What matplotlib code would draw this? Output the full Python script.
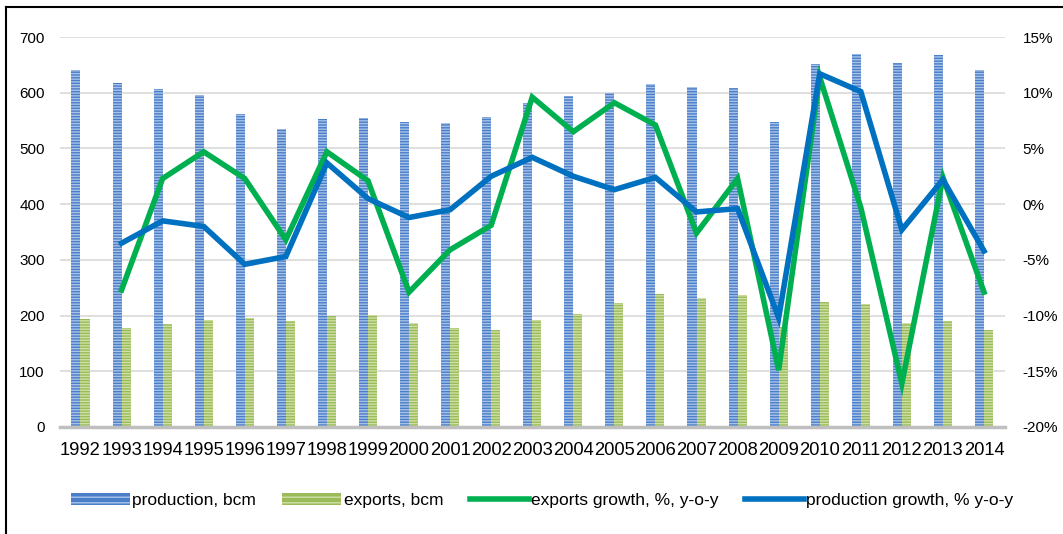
import numpy as np
import matplotlib
matplotlib.use("Agg")
import matplotlib.pyplot as plt
from matplotlib.lines import Line2D

plt.rcParams["font.family"] = ["Liberation Sans", "DejaVu Sans"]
plt.rcParams["hatch.linewidth"] = 1.0

# ── data ──────────────────────────────────────────────────────────────────────
years = [str(y) for y in range(1992, 2015)]
production = [640, 618, 607, 596, 562, 535, 553, 555, 547, 545, 557, 581,
              595, 600, 616, 611, 609, 547, 651, 670, 654, 668, 640]
exports = [194, 178, 184, 192, 196, 190, 199, 201, 186, 178, 174, 192,
           202, 222, 238, 231, 237, 180, 224, 220, 187, 190, 174]
# growth series start in 1993
exports_growth = [-7.7, 2.3, 4.7, 2.3, -3.2, 4.7, 2.1, -7.9, -4.1, -1.9, 9.6,
                  6.5, 9.1, 7.1, -2.6, 2.3, -14.9, 11.4, -0.3, -16.1, 2.4, -7.9]
production_growth = [-3.5, -1.5, -2.0, -5.4, -4.7, 3.7, 0.5, -1.2, -0.5, 2.5,
                     4.2, 2.5, 1.3, 2.4, -0.7, -0.4, -10.2, 11.7, 10.1, -2.3,
                     2.2, -4.2]

BLUE_BAR = "#4A7EC8"
BLUE_HATCH = "#A9C2E8"
GREEN_BAR = "#9BBB59"
GREEN_HATCH = "#CFE0A8"
GREEN_LINE = "#00B050"
BLUE_LINE = "#0070C0"

fig = plt.figure(figsize=(10.63, 5.34), dpi=100)
ax = fig.add_axes([0.0564, 0.2004, 0.8886, 0.7303])
ax2 = ax.twinx()

x = np.arange(len(years))
w = 0.22
ax.bar(x - w / 2, production, width=w, color=BLUE_BAR, edgecolor=BLUE_HATCH,
       linewidth=0, hatch="------", zorder=2)
ax.bar(x + w / 2, exports, width=w, color=GREEN_BAR, edgecolor=GREEN_HATCH,
       linewidth=0, hatch="------", zorder=2)

ax.set_xlim(-0.5, len(years) - 0.5)
ax.set_ylim(0, 700)
ax.set_yticks(range(0, 701, 100))
ax.set_xticks(x)
ax.set_xticklabels(years, fontsize=13.2)
ax.tick_params(axis="y", labelsize=11, length=0, pad=11)
ax.tick_params(axis="x", length=0, pad=11)
ax.grid(axis="y", color="#D9D9D9", linewidth=1.2, zorder=0)
ax.set_axisbelow(True)
for s in ["top", "right", "left"]:
    ax.spines[s].set_visible(False)
ax.spines["bottom"].set_color("#BFBFBF")
ax.spines["bottom"].set_linewidth(2.5)

ax2.plot(x[1:], exports_growth, color=GREEN_LINE, linewidth=4,
         solid_joinstyle="miter", zorder=3)
ax2.plot(x[1:], production_growth, color=BLUE_LINE, linewidth=4,
         solid_joinstyle="miter", zorder=4)
ax2.set_ylim(-20, 15)
ax2.set_yticks(range(-20, 16, 5))
ax2.set_yticklabels([f"{v}%" for v in range(-20, 16, 5)])
ax2.tick_params(axis="y", labelsize=11, length=0, pad=13)
for s in ax2.spines.values():
    s.set_visible(False)

# legend
handles = [
    plt.Rectangle((0, 0), 1, 1, facecolor=BLUE_BAR, edgecolor=BLUE_HATCH,
                  linewidth=0, hatch="---"),
    plt.Rectangle((0, 0), 1, 1, facecolor=GREEN_BAR, edgecolor=GREEN_HATCH,
                  linewidth=0, hatch="---"),
    Line2D([], [], color=GREEN_LINE, linewidth=4),
    Line2D([], [], color=BLUE_LINE, linewidth=4),
]
labels = ["production, bcm", "exports, bcm", "exports growth, %, y-o-y",
          "production growth, % y-o-y"]
fig.legend(handles, labels, loc="center", bbox_to_anchor=(0.51, 0.063),
           ncol=4, frameon=False, fontsize=12.5, handlelength=3.4,
           handletextpad=0.15, columnspacing=1.5)

# outer frame (left and top edges visible)
fig.add_artist(Line2D([0.006, 0.006], [0, 0.987], color="black", linewidth=1.5,
                      transform=fig.transFigure))
fig.add_artist(Line2D([0.006, 1.0], [0.987, 0.987], color="black", linewidth=1.5,
                      transform=fig.transFigure))

fig.savefig("out.png", dpi=100)
